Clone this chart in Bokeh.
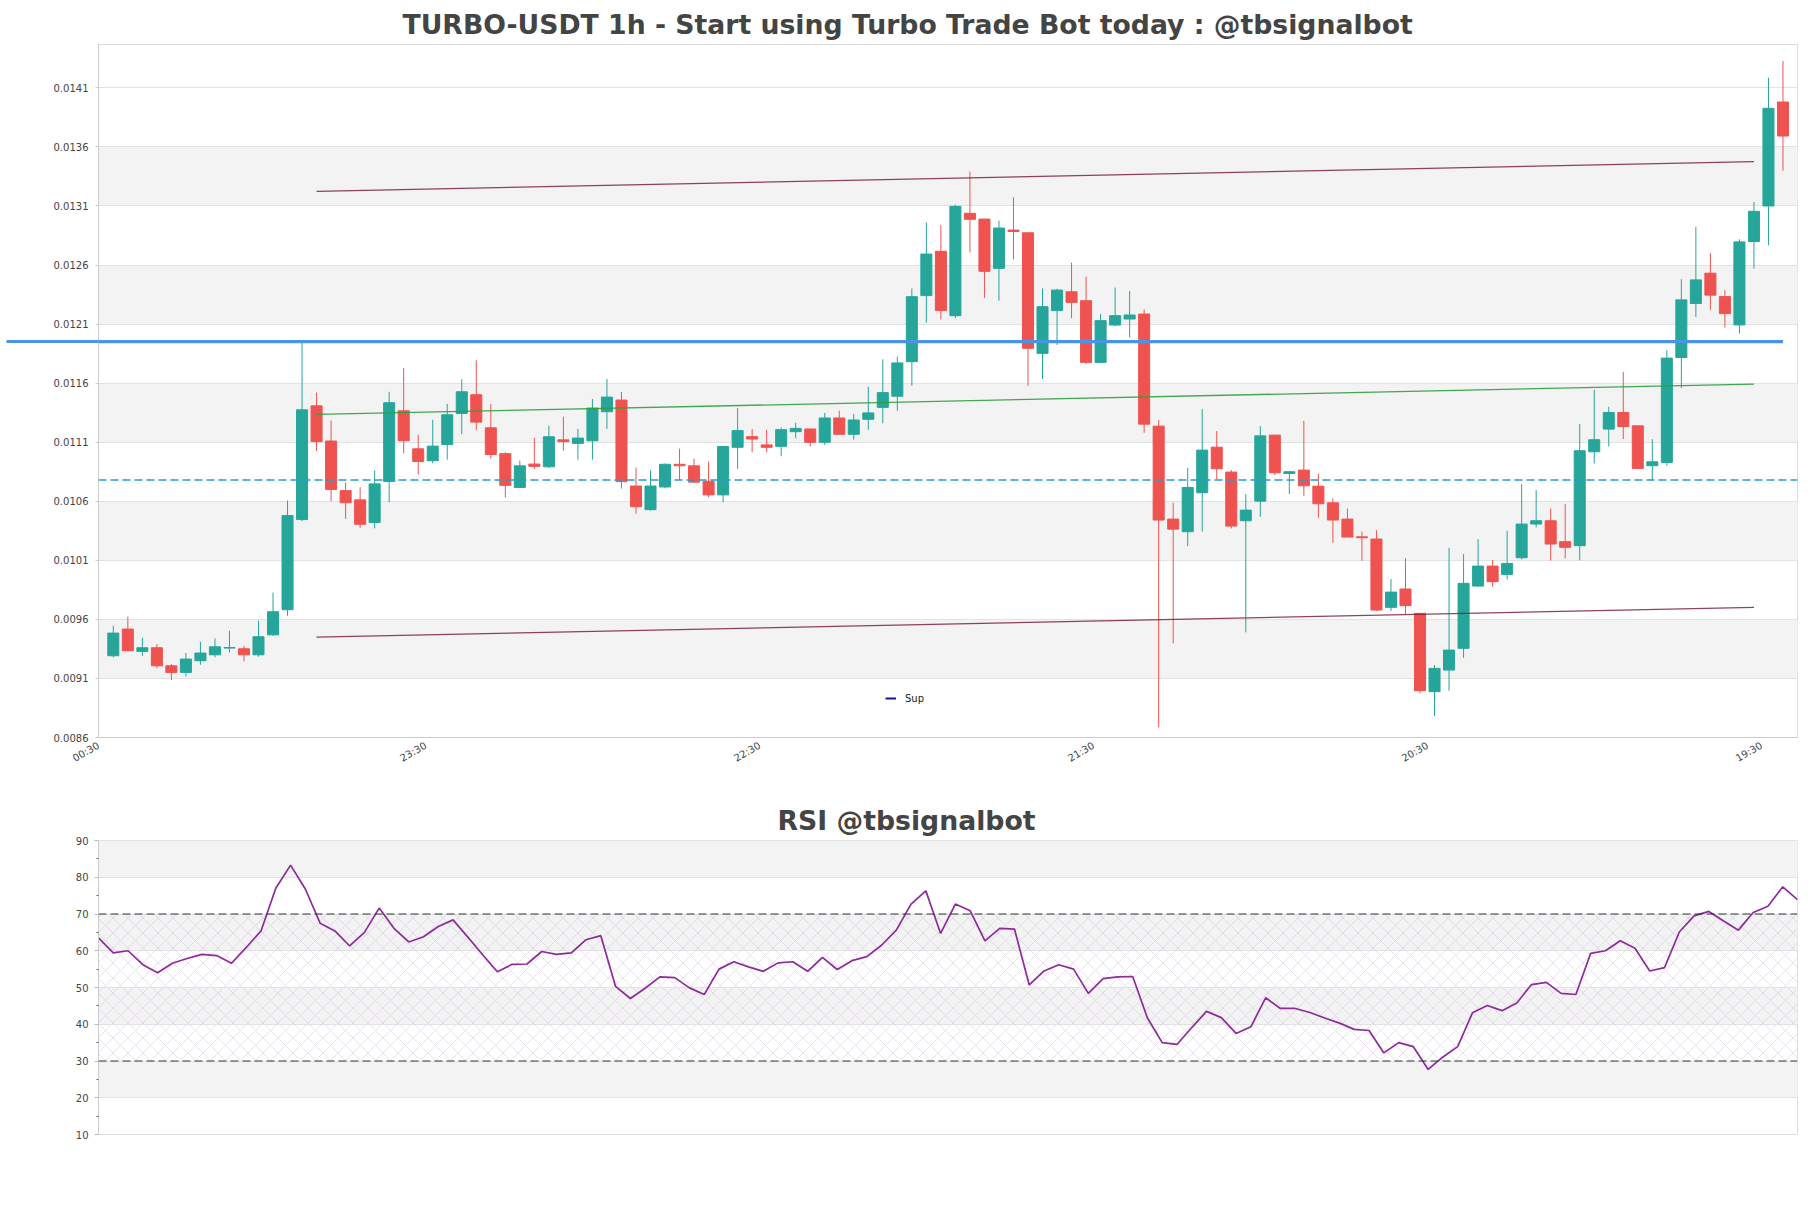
import math
from bokeh.plotting import figure
from bokeh.models import (Range1d, FixedTicker, PrintfTickFormatter, Span, BoxAnnotation,
                          Legend, LegendItem, ColumnDataSource)
from bokeh.layouts import column
from bokeh.embed import file_html
from bokeh.resources import INLINE

# ---------------- data ----------------
opens = [0.009292, 0.009518, 0.009329, 0.009360, 0.009207, 0.009151, 0.009250, 0.009300, 0.009357, 0.009351,
         0.009300, 0.009469, 0.009682, 0.010445, 0.011408, 0.011110, 0.010690, 0.010612, 0.010420, 0.010767,
         0.011366, 0.011044, 0.010943, 0.011080, 0.011343, 0.011502, 0.011222, 0.011003, 0.010717, 0.010915,
         0.010892, 0.011120, 0.011090, 0.011112, 0.011358, 0.011457, 0.010729, 0.010529, 0.010721, 0.010913,
         0.010900, 0.010770, 0.010654, 0.011057, 0.011147, 0.011077, 0.011065, 0.011189, 0.011212, 0.011099,
         0.011305, 0.011167, 0.011294, 0.011395, 0.011489, 0.011782, 0.012341, 0.012716, 0.012171, 0.013038,
         0.012989, 0.012572, 0.012896, 0.012873, 0.011852, 0.012214, 0.012374, 0.012298, 0.011776, 0.012092,
         0.012143, 0.012185, 0.011236, 0.010449, 0.010342, 0.010672, 0.011058, 0.010847, 0.010435, 0.010601,
         0.011160, 0.010835, 0.010864, 0.010728, 0.010587, 0.010449, 0.010299, 0.010280, 0.009702, 0.009857,
         0.009651, 0.008988, 0.009171, 0.009355, 0.009882, 0.010051, 0.009981, 0.010122, 0.010407, 0.010435,
         0.010258, 0.010224, 0.011019, 0.011211, 0.011352, 0.011239, 0.010901, 0.010929, 0.011817, 0.012274,
         0.012531, 0.012333, 0.012093, 0.012799, 0.013100, 0.013980]
highs = [0.009546, 0.009623, 0.009445, 0.009391, 0.009221, 0.009315, 0.009411, 0.009439, 0.009504, 0.009377,
         0.009589, 0.009826, 0.010606, 0.011962, 0.011521, 0.011284, 0.010758, 0.010719, 0.010860, 0.011527,
         0.011727, 0.011162, 0.011290, 0.011425, 0.011633, 0.011794, 0.011422, 0.011015, 0.010943, 0.011137,
         0.011239, 0.011315, 0.011213, 0.011466, 0.011635, 0.011525, 0.010885, 0.010862, 0.010920, 0.011045,
         0.010962, 0.010936, 0.011063, 0.011390, 0.011212, 0.011206, 0.011226, 0.011265, 0.011212, 0.011348,
         0.011367, 0.011339, 0.011570, 0.011802, 0.011825, 0.012402, 0.012961, 0.012939, 0.013111, 0.013390,
         0.012989, 0.012975, 0.013173, 0.012873, 0.012402, 0.012400, 0.012620, 0.012502, 0.012185, 0.012409,
         0.012380, 0.012224, 0.011287, 0.010587, 0.010883, 0.011380, 0.011194, 0.010864, 0.010661, 0.011236,
         0.011160, 0.010858, 0.011281, 0.010835, 0.010624, 0.010539, 0.010342, 0.010356, 0.009941, 0.010119,
         0.009651, 0.009214, 0.010206, 0.010152, 0.010279, 0.010102, 0.010350, 0.010745, 0.010695, 0.010539,
         0.010576, 0.011253, 0.011544, 0.011400, 0.011696, 0.011239, 0.011126, 0.011879, 0.012480, 0.012923,
         0.012700, 0.012387, 0.012818, 0.013134, 0.014186, 0.014327]
lows = [0.009278, 0.009329, 0.009292, 0.009188, 0.009086, 0.009117, 0.009216, 0.009278, 0.009320, 0.009244,
        0.009284, 0.009461, 0.009631, 0.010430, 0.011024, 0.010600, 0.010450, 0.010374, 0.010371, 0.010590,
        0.011005, 0.010827, 0.010922, 0.010952, 0.011169, 0.011202, 0.010960, 0.010632, 0.010710, 0.010872,
        0.010882, 0.011027, 0.010952, 0.010952, 0.011212, 0.010707, 0.010495, 0.010520, 0.010709, 0.010778,
        0.010755, 0.010634, 0.010592, 0.010874, 0.011015, 0.011015, 0.010981, 0.011133, 0.011065, 0.011077,
        0.011167, 0.011122, 0.011204, 0.011260, 0.011367, 0.011579, 0.012112, 0.012140, 0.012152, 0.012707,
        0.012321, 0.012298, 0.012648, 0.011579, 0.011635, 0.011924, 0.012149, 0.011762, 0.011776, 0.012081,
        0.011988, 0.011180, 0.008686, 0.009397, 0.010221, 0.010342, 0.010785, 0.010370, 0.009490, 0.010469,
        0.010821, 0.010661, 0.010647, 0.010460, 0.010249, 0.010297, 0.010096, 0.009671, 0.009671, 0.009643,
        0.008974, 0.008782, 0.008996, 0.009275, 0.009876, 0.009876, 0.009938, 0.010108, 0.010379, 0.010097,
        0.010117, 0.010100, 0.010920, 0.011064, 0.011126, 0.010872, 0.010779, 0.010901, 0.011558, 0.012161,
        0.012218, 0.012071, 0.012020, 0.012570, 0.012767, 0.013400]
closes = [0.009484, 0.009335, 0.009360, 0.009207, 0.009151, 0.009264, 0.009315, 0.009368, 0.009362, 0.009300,
          0.009453, 0.009665, 0.010479, 0.011374, 0.011105, 0.010700, 0.010588, 0.010405, 0.010747, 0.011434,
          0.011113, 0.010937, 0.011067, 0.011332, 0.011527, 0.011270, 0.010996, 0.010735, 0.010900, 0.010895,
          0.011146, 0.011105, 0.011135, 0.011389, 0.011482, 0.010766, 0.010554, 0.010729, 0.010913, 0.010901,
          0.010762, 0.010654, 0.011063, 0.011198, 0.011127, 0.011057, 0.011206, 0.011217, 0.011099, 0.011305,
          0.011167, 0.011288, 0.011348, 0.011520, 0.011771, 0.012332, 0.012693, 0.012214, 0.013097, 0.012987,
          0.012547, 0.012913, 0.012884, 0.011895, 0.012247, 0.012388, 0.012284, 0.011776, 0.012129, 0.012171,
          0.012177, 0.011253, 0.010441, 0.010364, 0.010717, 0.011033, 0.010875, 0.010390, 0.010525, 0.011154,
          0.010841, 0.010850, 0.010731, 0.010579, 0.010441, 0.010297, 0.010291, 0.009679, 0.009831, 0.009716,
          0.008996, 0.009185, 0.009340, 0.009905, 0.010051, 0.009919, 0.010074, 0.010407, 0.010435, 0.010238,
          0.010210, 0.011028, 0.011121, 0.011352, 0.011233, 0.010878, 0.010934, 0.011812, 0.012305, 0.012474,
          0.012345, 0.012189, 0.012796, 0.013055, 0.013927, 0.013692]

x_tick_pos = [-1, 22, 45, 68, 91, 114]
x_tick_labels = ["00:30", "23:30", "22:30", "21:30", "20:30", "19:30"]

channel_x = [14, 113]
channel_upper = [0.013223, 0.013476]
channel_mid = [0.011335, 0.011592]
channel_lower = [0.009450, 0.009702]
resistance_level = 0.011951
resistance_end = 115
support_level = 0.010780

rsi = [63.5, 59.4, 60.0, 56.2, 54.0, 56.6, 57.9, 59.0, 58.7, 56.6,
       60.9, 65.4, 77.0, 83.3, 76.8, 67.5, 65.4, 61.3, 65.0, 71.6,
       66.1, 62.4, 63.8, 66.6, 68.4, 63.7, 58.9, 54.3, 56.3, 56.4,
       59.8, 59.0, 59.4, 63.0, 64.1, 50.3, 47.0, 49.8, 52.9, 52.7,
       49.9, 48.1, 55.0, 57.0, 55.6, 54.4, 56.7, 57.0, 54.4, 58.2,
       54.9, 57.3, 58.4, 61.5, 65.6, 72.7, 76.3, 64.7, 72.7, 70.9,
       62.7, 66.1, 65.9, 50.7, 54.5, 56.2, 55.0, 48.4, 52.4, 52.9,
       53.0, 41.7, 35.0, 34.5, 39.1, 43.5, 41.8, 37.5, 39.3, 47.2,
       44.3, 44.3, 43.2, 41.7, 40.3, 38.6, 38.3, 32.2, 35.0, 33.9,
       27.7, 31.1, 33.9, 43.1, 45.1, 43.7, 45.8, 50.8, 51.4, 48.4,
       48.1, 59.3, 60.0, 62.7, 60.7, 54.5, 55.4, 65.1, 69.5, 70.7,
       68.1, 65.6, 70.4, 72.1, 77.4, 73.9]
rsi_upper, rsi_lower = 70, 30

title_main = "TURBO-USDT 1h - Start using Turbo Trade Bot today : @tbsignalbot"
title_rsi = "RSI @tbsignalbot"

# ---------------- styles ----------------
GREEN, RED = "#26a69a", "#ef5350"
BAND = "#f3f3f3"
GRID = "#e2e2e2"
TXT = "#444444"
FONT = "DejaVu Sans"
RES_COLOR = "#4a94e6"
X0, X1 = -1.02, 116.0
LABEL_SHIFT = 0.48   # rotated labels sit slightly left of their tick

n = len(opens)
idx = list(range(n))
colors = [GREEN if c >= o else RED for o, c in zip(opens, closes)]
src = ColumnDataSource(dict(x=idx, o=opens, h=highs, l=lows, c=closes,
                            top=[max(o, c) for o, c in zip(opens, closes)],
                            bot=[min(o, c) for o, c in zip(opens, closes)],
                            col=colors))

y0, ystep = 0.0086, 0.0005
y_ticks = [round(y0 + k * ystep, 6) for k in range(12)]


def style_title(p, text, offset, standoff):
    p.title.text = text
    p.title.align = "left"
    p.title.offset = offset
    p.title.standoff = standoff
    p.title.text_font = FONT
    p.title.text_font_style = "bold"
    p.title.text_font_size = "26.7px"
    p.title.text_color = TXT


p1 = figure(width=1803, height=790, x_range=Range1d(X0, X1), y_range=Range1d(0.0086, 0.014467),
            output_backend="svg", toolbar_location=None,
            min_border_left=98, min_border_right=6, min_border_top=44, min_border_bottom=53,
            background_fill_color="white", border_fill_color="white")
style_title(p1, title_main, 304, 10)
p1.outline_line_color = "#dddddd"
p1.xgrid.visible = False
p1.ygrid.grid_line_color = GRID
# the resistance level is also marked as a long minor tick reaching into the axis area
p1.yaxis.ticker = FixedTicker(ticks=y_ticks, minor_ticks=[resistance_level])
p1.yaxis.formatter = PrintfTickFormatter(format="%.4f")
label_pos = [max(X0, t - LABEL_SHIFT) for t in x_tick_pos]
p1.xaxis.ticker = FixedTicker(ticks=label_pos)
p1.xaxis.major_label_overrides = {t: s for t, s in zip(label_pos, x_tick_labels)}
p1.xaxis.major_label_orientation = math.pi / 6
for ax in (p1.xaxis, p1.yaxis):
    ax.axis_line_color = "#cccccc"
    ax.major_tick_line_color = "#cccccc"
    ax.major_tick_out = 3
    ax.major_tick_in = 0
    ax.major_label_text_font = FONT
    ax.major_label_text_font_size = "10px"
    ax.major_label_text_color = TXT
p1.xaxis.major_tick_line_color = None
p1.xaxis.minor_tick_line_color = None
p1.yaxis.minor_tick_line_color = RES_COLOR
p1.yaxis.minor_tick_line_width = 3
p1.yaxis.minor_tick_out = 92
p1.yaxis.minor_tick_in = 0
p1.yaxis.major_label_standoff = -82
p1.xaxis.major_label_standoff = 4

# alternating bands
band_b = y_ticks[1:-1:2]
band_t = [b + ystep for b in band_b]
p1.quad(left=-5, right=200, bottom=band_b, top=band_t, fill_color=BAND, line_color=None, level="image")

# candles
p1.segment(x0="x", y0="l", x1="x", y1="h", color="col", line_width=1, source=src)
p1.vbar(x="x", width=0.76, top="top", bottom="bot", fill_color="col", line_color="col", line_width=1, source=src)

# channel lines
p1.line(channel_x, channel_upper, color="#7d2236", line_width=1.3, alpha=0.85)
p1.line(channel_x, channel_lower, color="#7d2236", line_width=1.3, alpha=0.85)
p1.line(channel_x, channel_mid, color="#2e9e3e", line_width=1.3, alpha=0.9)

# support dashed line
p1.add_layout(Span(location=support_level, dimension="width", line_color="#2a9ccc",
                   line_width=1.3, line_dash="8 4"))
# resistance thick line
p1.add_layout(BoxAnnotation(left=-5, right=resistance_end,
                            top=resistance_level + 0.000014, bottom=resistance_level - 0.000014,
                            fill_color=RES_COLOR, fill_alpha=1.0, line_alpha=0, level="overlay"))

# legend (proxy renderer carries no visible data)
sup = p1.line(x=[0], y=[float("nan")], color="#14148c", line_width=2)
leg = Legend(items=[LegendItem(label="Sup", renderers=[sup])], location=(787, 33),
             padding=0, margin=0, border_line_alpha=0, background_fill_alpha=0,
             glyph_width=11, glyph_height=12, label_standoff=9, label_height=12,
             label_text_font=FONT, label_text_font_size="10px", label_text_color="#222222")
p1.add_layout(leg)

# ---------------- RSI ----------------
p2 = figure(width=1803, height=364, x_range=Range1d(0, n - 1), y_range=Range1d(10, 90),
            output_backend="svg", toolbar_location=None,
            min_border_left=98, min_border_right=6, min_border_top=50, min_border_bottom=20,
            background_fill_color="white", border_fill_color="white")
style_title(p2, title_rsi, 679, 9)
p2.outline_line_color = "#dddddd"
p2.xgrid.visible = False
p2.xaxis.visible = False
p2.ygrid.grid_line_color = GRID
rsi_ticks = list(range(10, 91, 10))
p2.yaxis.ticker = FixedTicker(ticks=rsi_ticks, minor_ticks=[t + 5 for t in rsi_ticks[:-1]])
p2.yaxis.axis_line_color = "#cccccc"
p2.yaxis.major_tick_line_color = "#bbbbbb"
p2.yaxis.major_tick_out = 4
p2.yaxis.major_tick_in = 0
p2.yaxis.minor_tick_line_color = "#666666"
p2.yaxis.minor_tick_out = 2
p2.yaxis.minor_tick_in = 0
p2.yaxis.major_label_text_font = FONT
p2.yaxis.major_label_text_font_size = "10px"
p2.yaxis.major_label_text_color = TXT
p2.yaxis.major_label_standoff = 6

rb = rsi_ticks[1:-1:2]
p2.quad(left=-5, right=200, bottom=rb, top=[b + 10 for b in rb], fill_color=BAND, line_color=None, level="image")
p2.quad(left=[-5], right=[200], bottom=[rsi_lower], top=[rsi_upper], fill_alpha=0, line_color=None,
        hatch_pattern="diagonal_cross", hatch_color="#cdb8d8", hatch_alpha=0.6, hatch_scale=15,
        hatch_weight=0.7, level="image")
for lv in (rsi_upper, rsi_lower):
    p2.add_layout(Span(location=lv, dimension="width", line_color="#333333", line_width=1.2, line_dash="8 4"))
p2.line(idx, rsi, color="#8e2a9c", line_width=1.7)

layout = column(p1, p2)
open("out.html", "w").write(file_html(layout, INLINE, title="TURBO-USDT"))
